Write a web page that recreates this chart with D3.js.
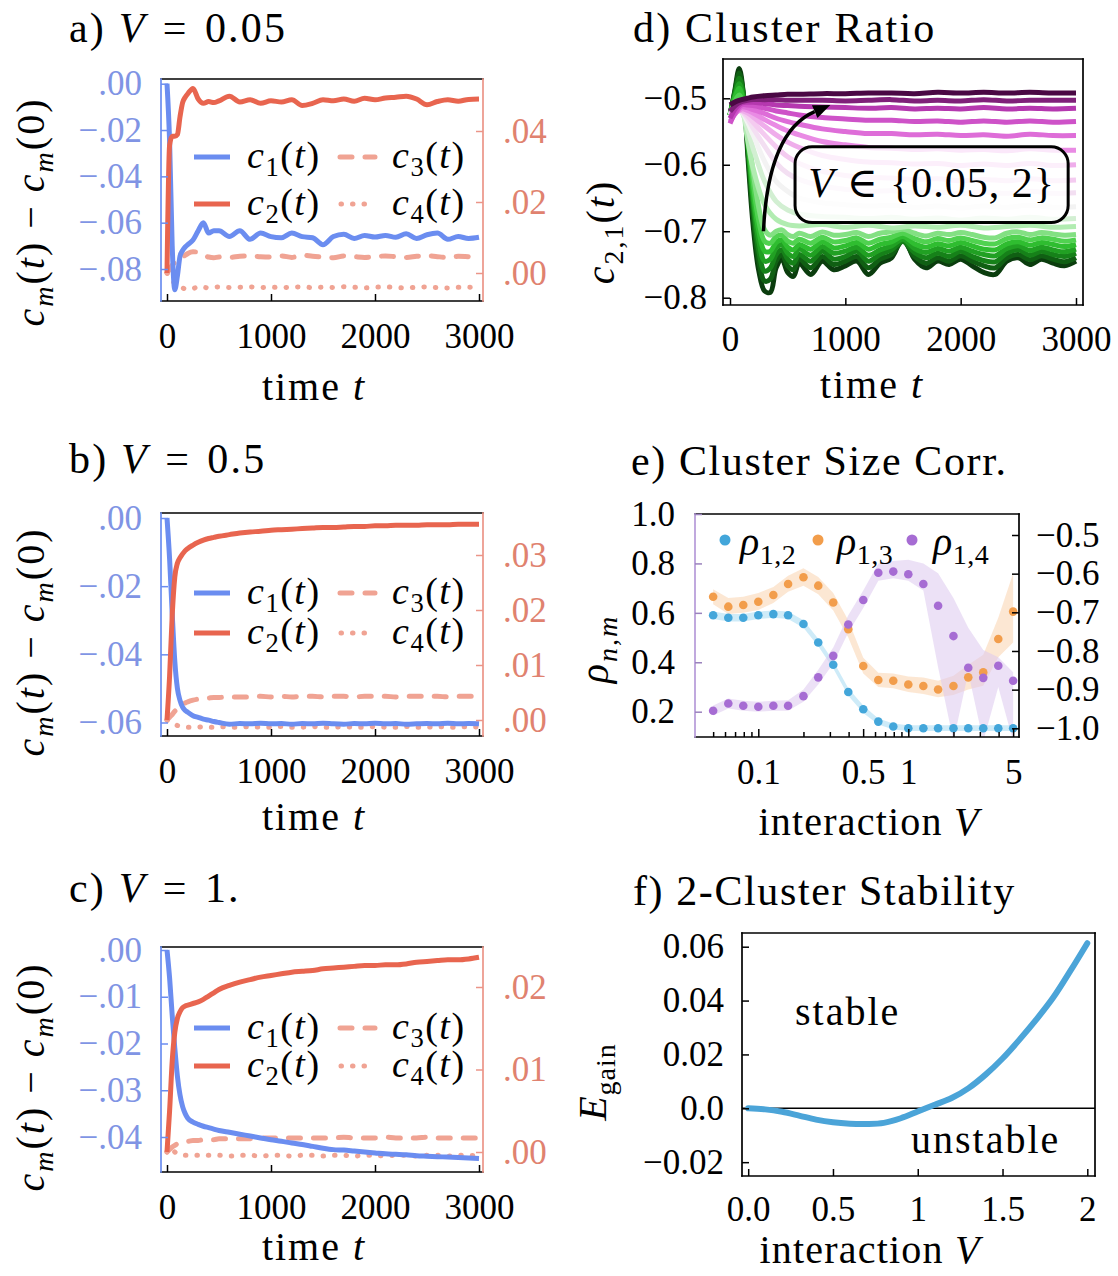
<!DOCTYPE html>
<html>
<head>
<meta charset="utf-8">
<title>Cluster dynamics</title>
<script src="https://cdn.jsdelivr.net/npm/d3@7"></script>
<style>
  html, body { margin: 0; padding: 0; background: #fff; }
  svg { display: block; }
  text { white-space: pre; }
</style>
</head>
<body>
<svg id="fig" width="1118" height="1276" viewBox="0 0 1118 1276"></svg>
<script>
// ================= data =================

// panels a–c: time grid and relative cluster sizes c_m(t) - c_m(0)
const T_ABC = [0,25,50,75,100,125,150,175,200,250,300,350,400,450,500,600,700,800,900,1000,1100,1200,1300,1400,1500,1600,1700,1800,1900,2000,2100,2200,2300,2400,2500,2600,2700,2800,2900,3000];
const T_TICKS = [0, 1000, 2000, 3000];

// a) V = 0.05
const c1A = [0,-0.025,-0.07,-0.089,-0.083,-0.0745,-0.072,-0.0705,-0.0695,-0.0675,-0.0635,-0.06,-0.0645,-0.0635,-0.0635,-0.066,-0.0635,-0.0672,-0.0645,-0.066,-0.0665,-0.0645,-0.066,-0.0665,-0.0695,-0.066,-0.065,-0.0668,-0.0655,-0.0662,-0.0655,-0.0663,-0.0648,-0.0668,-0.0652,-0.0645,-0.0672,-0.066,-0.0668,-0.0663];
const c2A = [0,0.036,0.0385,0.0385,0.039,0.044,0.048,0.0495,0.0505,0.052,0.049,0.0478,0.0483,0.048,0.0485,0.0498,0.0482,0.0488,0.0478,0.0485,0.0482,0.0488,0.0472,0.0478,0.0488,0.0485,0.049,0.0484,0.0492,0.0488,0.0493,0.0495,0.0498,0.049,0.0474,0.0483,0.0488,0.0484,0.0489,0.049];
const c3A = [0,0.001,0.0022,0.003,0.0035,0.004,0.0045,0.005,0.0055,0.006,0.0058,0.005,0.0045,0.0043,0.0045,0.0044,0.0047,0.0048,0.0046,0.0045,0.0048,0.0044,0.005,0.0047,0.0045,0.0043,0.0048,0.0046,0.0044,0.0046,0.0048,0.0046,0.0044,0.0047,0.0049,0.0046,0.0044,0.0047,0.0046,0.0045];
const c4A = [0,-0.001,-0.002,-0.003,-0.0035,-0.004,-0.0042,-0.0045,-0.0045,-0.0044,-0.0038,-0.004,-0.0042,-0.004,-0.0039,-0.0041,-0.004,-0.0039,-0.0041,-0.004,-0.0041,-0.004,-0.0039,-0.0041,-0.004,-0.0041,-0.0039,-0.004,-0.0042,-0.004,-0.0039,-0.0041,-0.0042,-0.004,-0.0039,-0.0041,-0.0042,-0.004,-0.004,-0.0041];

// b) V = 0.5
const c1B = [0,-0.012,-0.028,-0.042,-0.05,-0.0535,-0.0555,-0.0565,-0.057,-0.058,-0.0585,-0.059,-0.0593,-0.0597,-0.06,-0.0605,-0.0603,-0.0604,-0.0602,-0.0604,-0.0603,-0.0605,-0.0603,-0.0604,-0.0602,-0.0604,-0.0605,-0.0603,-0.0604,-0.0602,-0.0604,-0.0603,-0.0605,-0.0604,-0.0603,-0.0604,-0.0602,-0.0604,-0.0603,-0.0604];
const c2B = [0,0.008,0.019,0.026,0.0285,0.0295,0.0302,0.0308,0.0312,0.0318,0.0323,0.0327,0.033,0.0332,0.0334,0.0337,0.034,0.0342,0.0343,0.0345,0.0346,0.0347,0.0348,0.0349,0.035,0.035,0.0351,0.0352,0.0352,0.0353,0.0353,0.0354,0.0354,0.0354,0.0355,0.0355,0.0355,0.0356,0.0356,0.0356];
const c3B = [0,0.0005,0.001,0.0016,0.002,0.0025,0.0028,0.0031,0.0033,0.0036,0.0038,0.0039,0.004,0.0041,0.0041,0.0042,0.0042,0.0042,0.0043,0.0042,0.0043,0.0042,0.0043,0.0043,0.0042,0.0043,0.0043,0.0042,0.0043,0.0043,0.0043,0.0042,0.0043,0.0043,0.0043,0.0043,0.0042,0.0043,0.0043,0.0043];
const c4B = [0,-0.0003,-0.0006,-0.0008,-0.001,-0.0011,-0.0012,-0.0012,-0.0013,-0.0013,-0.0013,-0.0012,-0.0013,-0.0013,-0.0012,-0.0013,-0.0013,-0.0012,-0.0013,-0.0013,-0.0012,-0.0013,-0.0013,-0.0012,-0.0013,-0.0013,-0.0012,-0.0013,-0.0013,-0.0012,-0.0013,-0.0013,-0.0012,-0.0013,-0.0013,-0.0012,-0.0013,-0.0013,-0.0012,-0.0013];

// c) V = 1
const c1C = [0,-0.006,-0.014,-0.021,-0.027,-0.031,-0.0335,-0.035,-0.036,-0.0368,-0.0373,-0.0377,-0.038,-0.0383,-0.0386,-0.039,-0.0394,-0.0398,-0.0402,-0.0406,-0.0409,-0.0413,-0.0416,-0.042,-0.0424,-0.0427,-0.0428,-0.043,-0.0432,-0.0434,-0.0436,-0.0437,-0.0438,-0.044,-0.0441,-0.0442,-0.0443,-0.0444,-0.0445,-0.0446];
const c2C = [0,0.005,0.011,0.0145,0.0162,0.017,0.0175,0.0177,0.0178,0.018,0.0182,0.0185,0.0189,0.0193,0.0197,0.0202,0.0206,0.0209,0.0212,0.0214,0.0216,0.0218,0.0219,0.022,0.0222,0.0223,0.0224,0.0225,0.0226,0.0226,0.0227,0.0227,0.0228,0.023,0.0231,0.0232,0.0233,0.0233,0.0234,0.0236];
const c3C = [0,0.0003,0.0006,0.0008,0.001,0.0011,0.0012,0.0013,0.0013,0.0014,0.0014,0.0015,0.0015,0.0015,0.0016,0.0016,0.0016,0.0016,0.0017,0.0017,0.0017,0.0017,0.0017,0.0017,0.0017,0.0017,0.0018,0.0017,0.0017,0.0017,0.0018,0.0017,0.0017,0.0017,0.0018,0.0017,0.0017,0.0017,0.0017,0.0017];
const c4C = [0,0.0005,0.0003,0,-0.0002,-0.0003,-0.0004,-0.0004,-0.0004,-0.0004,-0.0004,-0.0005,-0.0004,-0.0004,-0.0004,-0.0005,-0.0004,-0.0004,-0.0005,-0.0004,-0.0004,-0.0005,-0.0004,-0.0004,-0.0005,-0.0004,-0.0004,-0.0005,-0.0004,-0.0004,-0.0005,-0.0004,-0.0004,-0.0005,-0.0004,-0.0004,-0.0005,-0.0004,-0.0004,-0.0005];

// d) cluster ratio c_{2,1}(t) for V from 0.05 (first) to 2 (last)
const T_FAST = [0,40,80,120,160,200,250,300,350,400,450,500,550,600,700,800,900,1000,1100,1200,1300,1400,1500,1600,1700,1800,1900,2000,2100,2200,2300,2400,2500,2600,2700,2800,2900,3000];
const ratioLowV = [
  [-0.525,-0.49,-0.455,-0.50,-0.60,-0.69,-0.76,-0.79,-0.792,-0.755,-0.742,-0.762,-0.768,-0.748,-0.765,-0.745,-0.758,-0.752,-0.745,-0.765,-0.748,-0.74,-0.71,-0.742,-0.755,-0.745,-0.75,-0.742,-0.752,-0.762,-0.765,-0.745,-0.74,-0.75,-0.742,-0.748,-0.752,-0.745],
  [-0.525,-0.492,-0.462,-0.50,-0.59,-0.675,-0.745,-0.775,-0.772,-0.745,-0.735,-0.752,-0.758,-0.742,-0.755,-0.738,-0.75,-0.745,-0.738,-0.755,-0.742,-0.735,-0.715,-0.738,-0.748,-0.74,-0.745,-0.737,-0.745,-0.752,-0.755,-0.74,-0.735,-0.743,-0.737,-0.742,-0.746,-0.74],
  [-0.525,-0.495,-0.47,-0.50,-0.58,-0.66,-0.73,-0.76,-0.755,-0.735,-0.728,-0.742,-0.748,-0.735,-0.745,-0.73,-0.742,-0.738,-0.73,-0.745,-0.735,-0.728,-0.715,-0.732,-0.74,-0.733,-0.738,-0.73,-0.738,-0.744,-0.746,-0.733,-0.728,-0.736,-0.73,-0.735,-0.738,-0.733],
  [-0.525,-0.498,-0.478,-0.505,-0.575,-0.65,-0.715,-0.745,-0.742,-0.725,-0.72,-0.733,-0.738,-0.727,-0.736,-0.723,-0.733,-0.73,-0.724,-0.736,-0.728,-0.722,-0.712,-0.726,-0.732,-0.726,-0.73,-0.724,-0.73,-0.735,-0.737,-0.726,-0.722,-0.729,-0.724,-0.728,-0.731,-0.727],
  [-0.525,-0.5,-0.485,-0.51,-0.57,-0.64,-0.7,-0.73,-0.73,-0.717,-0.713,-0.724,-0.728,-0.72,-0.727,-0.716,-0.725,-0.722,-0.717,-0.727,-0.72,-0.716,-0.708,-0.719,-0.724,-0.719,-0.722,-0.717,-0.722,-0.727,-0.728,-0.719,-0.716,-0.721,-0.717,-0.72,-0.723,-0.72],
  [-0.525,-0.505,-0.495,-0.515,-0.565,-0.625,-0.685,-0.715,-0.718,-0.708,-0.706,-0.715,-0.718,-0.712,-0.718,-0.709,-0.716,-0.714,-0.71,-0.718,-0.712,-0.709,-0.703,-0.711,-0.716,-0.711,-0.714,-0.71,-0.714,-0.718,-0.719,-0.711,-0.709,-0.713,-0.71,-0.712,-0.715,-0.713],
  [-0.525,-0.51,-0.505,-0.52,-0.56,-0.61,-0.665,-0.698,-0.706,-0.7,-0.698,-0.705,-0.708,-0.703,-0.708,-0.701,-0.706,-0.705,-0.702,-0.708,-0.703,-0.701,-0.697,-0.703,-0.707,-0.703,-0.705,-0.702,-0.705,-0.709,-0.71,-0.703,-0.701,-0.705,-0.702,-0.704,-0.706,-0.705]
];
const T_SLOW = [0,50,100,150,200,300,400,500,600,800,1000,1200,1400,1600,1800,2000,2200,2400,2600,2800,3000];
const ratioHighV = [
  [-0.525,-0.512,-0.515,-0.56,-0.605,-0.66,-0.682,-0.69,-0.692,-0.69,-0.694,-0.691,-0.695,-0.692,-0.694,-0.691,-0.695,-0.693,-0.691,-0.694,-0.693],
  [-0.525,-0.515,-0.52,-0.545,-0.575,-0.625,-0.655,-0.668,-0.674,-0.678,-0.679,-0.681,-0.679,-0.682,-0.68,-0.683,-0.68,-0.682,-0.679,-0.682,-0.681],
  [-0.525,-0.517,-0.52,-0.535,-0.555,-0.595,-0.625,-0.64,-0.65,-0.657,-0.66,-0.662,-0.661,-0.664,-0.662,-0.665,-0.662,-0.664,-0.661,-0.664,-0.663],
  [-0.525,-0.518,-0.52,-0.53,-0.545,-0.572,-0.597,-0.613,-0.622,-0.632,-0.637,-0.64,-0.639,-0.642,-0.641,-0.643,-0.641,-0.643,-0.64,-0.643,-0.642],
  [-0.524,-0.518,-0.519,-0.526,-0.536,-0.555,-0.573,-0.588,-0.598,-0.61,-0.616,-0.619,-0.62,-0.622,-0.621,-0.624,-0.622,-0.624,-0.621,-0.624,-0.623],
  [-0.523,-0.518,-0.518,-0.522,-0.528,-0.542,-0.555,-0.566,-0.574,-0.586,-0.592,-0.596,-0.597,-0.599,-0.598,-0.601,-0.599,-0.601,-0.598,-0.601,-0.6],
  [-0.53,-0.522,-0.516,-0.518,-0.522,-0.532,-0.541,-0.549,-0.555,-0.565,-0.57,-0.574,-0.575,-0.577,-0.576,-0.578,-0.577,-0.579,-0.576,-0.578,-0.578],
  [-0.535,-0.522,-0.513,-0.514,-0.517,-0.523,-0.53,-0.535,-0.539,-0.546,-0.55,-0.553,-0.553,-0.555,-0.554,-0.556,-0.555,-0.557,-0.554,-0.556,-0.556],
  [-0.538,-0.52,-0.51,-0.51,-0.511,-0.515,-0.519,-0.522,-0.525,-0.529,-0.531,-0.533,-0.533,-0.535,-0.534,-0.536,-0.534,-0.536,-0.534,-0.536,-0.535],
  [-0.53,-0.515,-0.507,-0.506,-0.506,-0.508,-0.51,-0.511,-0.512,-0.513,-0.514,-0.515,-0.514,-0.516,-0.515,-0.516,-0.514,-0.516,-0.515,-0.516,-0.515],
  [-0.52,-0.51,-0.505,-0.503,-0.502,-0.502,-0.502,-0.503,-0.503,-0.503,-0.504,-0.503,-0.502,-0.504,-0.503,-0.504,-0.502,-0.504,-0.503,-0.503,-0.503],
  [-0.51,-0.505,-0.502,-0.5,-0.498,-0.496,-0.495,-0.494,-0.494,-0.493,-0.493,-0.492,-0.492,-0.493,-0.491,-0.492,-0.491,-0.492,-0.491,-0.492,-0.492]
];
const D_YTICKS = [-0.8, -0.7, -0.6, -0.5];

// e) cluster size correlations vs interaction V
const V_E = [0.05,0.0631,0.0794,0.1,0.126,0.158,0.2,0.251,0.316,0.398,0.501,0.631,0.794,1.0,1.26,1.58,2.0,2.51,3.16,3.98,5.0];
const rho12   = [0.59,0.58,0.58,0.59,0.595,0.59,0.555,0.48,0.39,0.28,0.21,0.16,0.14,0.133,0.133,0.133,0.133,0.133,0.133,0.133,0.133];
const rho12Lo = [0.575,0.565,0.565,0.575,0.58,0.575,0.54,0.465,0.375,0.265,0.195,0.148,0.128,0.122,0.122,0.122,0.122,0.122,0.122,0.122,0.122];
const rho12Hi = [0.605,0.595,0.595,0.605,0.61,0.605,0.57,0.495,0.405,0.295,0.225,0.172,0.152,0.145,0.145,0.145,0.145,0.145,0.145,0.145,0.145];
const rho13   = [0.665,0.625,0.632,0.645,0.672,0.717,0.744,0.71,0.642,0.534,0.385,0.328,0.325,0.31,0.304,0.29,0.304,0.339,0.359,0.494,0.605];
const rho13Lo = [0.635,0.595,0.6,0.612,0.64,0.685,0.71,0.675,0.61,0.5,0.355,0.3,0.295,0.28,0.272,0.258,0.268,0.29,0.305,0.42,0.48];
const rho13Hi = [0.695,0.66,0.665,0.68,0.705,0.75,0.78,0.745,0.68,0.57,0.418,0.358,0.355,0.342,0.338,0.325,0.345,0.39,0.43,0.58,0.76];
const rho14   = [0.204,0.233,0.224,0.22,0.224,0.224,0.263,0.339,0.426,0.553,0.652,0.762,0.767,0.756,0.717,0.629,0.506,0.378,0.337,0.386,0.325];
const rho14Lo = [0.185,0.213,0.204,0.2,0.204,0.204,0.24,0.31,0.395,0.52,0.62,0.73,0.74,0.73,0.69,0.38,0.08,0.36,0.08,0.3,0.08];
const rho14Hi = [0.225,0.253,0.244,0.24,0.244,0.246,0.29,0.37,0.46,0.59,0.69,0.8,0.81,0.815,0.8,0.76,0.66,0.54,0.45,0.42,0.36];
const E_XTICKS = [0.1, 0.5, 1, 5];
const E_XMINOR = [0.05,0.06,0.07,0.08,0.09,0.2,0.3,0.4,0.6,0.7,0.8,0.9,2,3,4];
const E_YTICKS = [0.2, 0.4, 0.6, 0.8, 1.0];
const E_YTICKS_R = [-1.0, -0.9, -0.8, -0.7, -0.6, -0.5];

// f) energy gain of the 2-cluster state
const V_F = [0,0.1,0.2,0.3,0.4,0.5,0.6,0.7,0.8,0.9,1.0,1.1,1.2,1.3,1.4,1.5,1.6,1.7,1.8,1.9,2.0];
const E_F = [0,-0.0004,-0.0013,-0.0027,-0.0042,-0.0052,-0.0057,-0.0058,-0.0054,-0.0037,-0.0012,0.0013,0.0038,0.0075,0.0125,0.0185,0.0255,0.033,0.0412,0.051,0.0613];
const F_XTICKS = [0, 0.5, 1, 1.5, 2];
const F_XLABELS = ["0.0", "0.5", "1", "1.5", "2"];
const F_YTICKS = [-0.02, 0, 0.02, 0.04, 0.06];
const F_YLABELS = ["\u22120.02", "0.0", "0.02", "0.04", "0.06"];

// ================= drawing =================
const FONT = '"Liberation Serif", "DejaVu Serif", serif';
const TICK_FS = 35, LABEL_FS = 40, TITLE_FS = 42, LEG_FS = 38;
const LS = "1.5px", TITLE_LS = "2.2px";

const svg = d3.select("#fig").attr("font-family", FONT);
svg.append("rect").attr("width", 1118).attr("height", 1276).attr("fill", "#fff");

const C1 = "#6b8df0", C2 = "#e8654f", C34 = "#f0a393";
const BLUE_TXT = "#8094e4", RED_TXT = "#e0826f", RED_SPINE = "#eb9588";

// math-style text: parts are strings or {t, i (italic), sub (subscript)}
function mtext(parent, x, y, parts, size, o = {}) {
  const t = parent.append("text").attr("x", x).attr("y", y).attr("font-size", size)
    .attr("font-family", FONT);
  if (o.anchor) t.attr("text-anchor", o.anchor);
  if (o.fill) t.attr("fill", o.fill);
  if (o.rotate) t.attr("transform", `rotate(${o.rotate},${x},${y})`);
  t.attr("letter-spacing", o.ls != null ? o.ls : LS);
  let shift = 0;
  for (const p of parts) {
    const piece = typeof p === "string" ? { t: p } : p;
    const s = t.append("tspan").text(piece.t);
    if (piece.i) s.attr("font-style", "italic");
    const want = piece.sub ? size * 0.22 : 0;
    if (want !== shift) { s.attr("dy", want - shift); shift = want; }
    if (piece.sub) s.attr("font-size", size * 0.7);
  }
  return t;
}

let clipCount = 0;
function clipFor(g, box) {
  const id = "clip" + (clipCount++);
  g.append("clipPath").attr("id", id).append("rect")
    .attr("x", box.x0).attr("y", box.y0)
    .attr("width", box.x1 - box.x0).attr("height", box.y1 - box.y0);
  return `url(#${id})`;
}

function spines(g, box, c) {
  const seg = (x1, y1, x2, y2, col) => g.append("line")
    .attr("x1", x1).attr("y1", y1).attr("x2", x2).attr("y2", y2)
    .attr("stroke", col).attr("stroke-width", 1.7).attr("stroke-linecap", "square");
  seg(box.x0, box.y0, box.x1, box.y0, c.top || "#000");
  seg(box.x0, box.y1, box.x1, box.y1, c.bottom || "#000");
  seg(box.x0, box.y0, box.x0, box.y1, c.left || "#000");
  seg(box.x1, box.y0, box.x1, box.y1, c.right || "#000");
}

function styleAxis(a, lineColor, textColor) {
  a.attr("font-family", FONT).attr("font-size", TICK_FS);
  a.select(".domain").remove();
  a.selectAll(".tick line").attr("stroke", lineColor).attr("stroke-width", 1.5);
  a.selectAll(".tick text").attr("fill", textColor);
}

const fmtFrac = d => d3.format(".2f")(d).replace("0.", ".");
const EQ = "\u2004=\u2004";

// ---------- panels a–c ----------
function timePanel(cfg) {
  const g = svg.append("g");
  const box = cfg.box;
  const x = d3.scaleLinear().domain([0, 3000]).range([167, 479]);
  const yL = d3.scaleLinear().domain(cfg.left.dom).range(cfg.left.rng);
  const yR = d3.scaleLinear().domain(cfg.right.dom).range(cfg.right.rng);
  const clip = clipFor(g, box);
  const lineL = d3.line().x((d, i) => x(T_ABC[i])).y(d => yL(d)).curve(d3.curveMonotoneX);
  const lineR = d3.line().x((d, i) => x(T_ABC[i])).y(d => yR(d)).curve(d3.curveMonotoneX);
  const lg = g.append("g").attr("clip-path", clip);
  lg.append("path").datum(cfg.c3).attr("d", lineR).attr("fill", "none").attr("stroke", C34)
    .attr("stroke-width", 5).attr("stroke-dasharray", "12,13").attr("stroke-linecap", "round");
  lg.append("path").datum(cfg.c4).attr("d", lineR).attr("fill", "none").attr("stroke", C34)
    .attr("stroke-width", 5).attr("stroke-dasharray", "0.5,11").attr("stroke-linecap", "round");
  lg.append("path").datum(cfg.c1).attr("d", lineL).attr("fill", "none").attr("stroke", C1)
    .attr("stroke-width", 5).attr("stroke-linejoin", "round");
  lg.append("path").datum(cfg.c2).attr("d", lineR).attr("fill", "none").attr("stroke", C2)
    .attr("stroke-width", 5).attr("stroke-linejoin", "round");

  spines(g, box, { left: C1, right: RED_SPINE });

  g.append("g").attr("transform", `translate(${box.x0},0)`)
    .call(d3.axisLeft(yL).tickValues(cfg.left.ticks).tickFormat(fmtFrac).tickSize(-7).tickPadding(19))
    .call(styleAxis, C1, BLUE_TXT);
  g.append("g").attr("transform", `translate(${box.x1},0)`)
    .call(d3.axisRight(yR).tickValues(cfg.right.ticks).tickFormat(fmtFrac).tickSize(-7).tickPadding(20))
    .call(styleAxis, RED_SPINE, RED_TXT);
  g.append("g").attr("transform", `translate(0,${box.y1})`)
    .call(d3.axisBottom(x).tickValues(T_TICKS).tickFormat(d3.format("d")).tickSize(-7).tickPadding(22))
    .call(styleAxis, "#000", "#000");

  // legend (two columns)
  const [r1, r2] = cfg.legendRows;
  const sample = (x1, x2, y, col, dash) => {
    const l = g.append("line").attr("x1", x1).attr("x2", x2).attr("y1", y).attr("y2", y)
      .attr("stroke", col).attr("stroke-width", 5).attr("stroke-linecap", dash ? "round" : "butt");
    if (dash) l.attr("stroke-dasharray", dash);
  };
  sample(194, 230, r1, C1);
  sample(194, 230, r2, C2);
  sample(340, 375, r1, C34, "12,13");
  sample(341, 366, r2, C34, "0.5,11");
  const cm = k => [{ t: "c", i: 1 }, { t: String(k), sub: 1 }, "(", { t: "t", i: 1 }, ")"];
  mtext(g, 247, r1 + 11, cm(1), LEG_FS);
  mtext(g, 247, r2 + 11, cm(2), LEG_FS);
  mtext(g, 392, r1 + 11, cm(3), LEG_FS);
  mtext(g, 392, r2 + 11, cm(4), LEG_FS);

  // title and axis labels
  mtext(g, 69, cfg.titleY, cfg.title, TITLE_FS, { ls: TITLE_LS });
  mtext(g, 314, cfg.xlabelY, ["time ", { t: "t", i: 1 }], LABEL_FS, { anchor: "middle", ls: "2px" });
  mtext(g, 44, cfg.ylabelY,
    [{ t: "c", i: 1 }, { t: "m", i: 1, sub: 1 }, "(", { t: "t", i: 1 }, ") \u2212 ",
     { t: "c", i: 1 }, { t: "m", i: 1, sub: 1 }, "(0)"],
    LABEL_FS, { anchor: "middle", rotate: -90, ls: "2px" });
}

timePanel({
  box: { x0: 161, x1: 483, y0: 79, y1: 301 },
  left: { dom: [0, -0.08], rng: [83.7, 269], ticks: [-0.08, -0.06, -0.04, -0.02, 0] },
  right: { dom: [0, 0.04], rng: [273, 131], ticks: [0, 0.02, 0.04] },
  c1: c1A, c2: c2A, c3: c3A, c4: c4A,
  legendRows: [157, 204],
  title: ["a) ", { t: "V", i: 1 }, EQ + "0.05"], titleY: 42, xlabelY: 400, ylabelY: 212
});
timePanel({
  box: { x0: 161, x1: 483, y0: 513, y1: 736 },
  left: { dom: [0, -0.06], rng: [518, 722.5], ticks: [-0.06, -0.04, -0.02, 0] },
  right: { dom: [0, 0.03], rng: [720, 555], ticks: [0, 0.01, 0.02, 0.03] },
  c1: c1B, c2: c2B, c3: c3B, c4: c4B,
  legendRows: [593, 633],
  title: ["b) ", { t: "V", i: 1 }, EQ + "0.5"], titleY: 473, xlabelY: 830, ylabelY: 642
});
timePanel({
  box: { x0: 161, x1: 483, y0: 947, y1: 1172 },
  left: { dom: [0, -0.04], rng: [950, 1137], ticks: [-0.04, -0.03, -0.02, -0.01, 0] },
  right: { dom: [0, 0.02], rng: [1152, 987], ticks: [0, 0.01, 0.02] },
  c1: c1C, c2: c2C, c3: c3C, c4: c4C,
  legendRows: [1028, 1066],
  title: ["c) ", { t: "V", i: 1 }, EQ + "1."], titleY: 902, xlabelY: 1260, ylabelY: 1077
});

// ---------- panel d ----------
(function () {
  const g = svg.append("g");
  const box = { x0: 723, x1: 1083, y0: 59, y1: 305 };
  const x = d3.scaleLinear().domain([0, 3000]).range([730, 1076]);
  const y = d3.scaleLinear().domain([-0.5, -0.8]).range([98.3, 297.7]);
  const clip = clipFor(g, box);
  const n = ratioLowV.length + ratioHighV.length;
  const stops = ["#0b3d0e", "#178a1a", "#36cb36", "#a9eba9", "#f3f3f3", "#f4c6f0", "#e67ae0", "#c23ebc", "#4a0844"];
  const color = d3.scaleLinear().domain(stops.map((_, i) => i * (n - 1) / (stops.length - 1))).range(stops);
  const lg = g.append("g").attr("clip-path", clip);
  const lineFast = d3.line().x((d, i) => x(T_FAST[i])).y(d => y(d)).curve(d3.curveCatmullRom);
  const lineSlow = d3.line().x((d, i) => x(T_SLOW[i])).y(d => y(d)).curve(d3.curveCatmullRom);
  ratioLowV.forEach((s, k) => lg.append("path").datum(s).attr("d", lineFast).attr("fill", "none")
    .attr("stroke", color(k)).attr("stroke-width", 5).attr("stroke-linejoin", "round"));
  ratioHighV.forEach((s, k) => lg.append("path").datum(s).attr("d", lineSlow).attr("fill", "none")
    .attr("stroke", color(k + ratioLowV.length)).attr("stroke-width", 5).attr("stroke-linejoin", "round"));

  // annotation box
  const bx0 = x(564), bx1 = x(2932), by0 = y(-0.573), by1 = y(-0.687);
  g.append("rect").attr("x", bx0).attr("y", by0).attr("width", bx1 - bx0).attr("height", by1 - by0)
    .attr("rx", 17).attr("fill", "#fff").attr("fill-opacity", 0.8)
    .attr("stroke", "#000").attr("stroke-width", 3);
  mtext(g, (bx0 + bx1) / 2, y(-0.648), [{ t: "V", i: 1 }, " \u2208 {0.05, 2}"], 42, { anchor: "middle", ls: "1px" });

  // curved arrow
  const p0 = [x(290), y(-0.70)], pc = [x(330), y(-0.55)], p1 = [x(870), y(-0.510)];
  const ang = Math.atan2(p1[1] - pc[1], p1[0] - pc[0]);
  const hl = 17, hw = 7;
  const back = [p1[0] - hl * Math.cos(ang), p1[1] - hl * Math.sin(ang)];
  g.append("path").attr("d", `M${p0}Q${pc} ${back}`).attr("fill", "none")
    .attr("stroke", "#000").attr("stroke-width", 3.5);
  g.append("path").attr("d",
    `M${p1}L${back[0] - hw * Math.sin(ang)},${back[1] + hw * Math.cos(ang)}L${back[0] + hw * Math.sin(ang)},${back[1] - hw * Math.cos(ang)}Z`)
    .attr("fill", "#000");

  spines(g, box, {});
  g.append("g").attr("transform", `translate(${box.x0},0)`)
    .call(d3.axisLeft(y).tickValues(D_YTICKS).tickFormat(d3.format(".1f")).tickSize(-7).tickPadding(16))
    .call(styleAxis, "#000", "#000");
  g.append("g").attr("transform", `translate(0,${box.y1})`)
    .call(d3.axisBottom(x).tickValues(T_TICKS).tickFormat(d3.format("d")).tickSize(-7).tickPadding(21))
    .call(styleAxis, "#000", "#000");

  mtext(g, 633, 42, ["d) Cluster Ratio"], TITLE_FS, { ls: TITLE_LS });
  mtext(g, 872, 398, ["time ", { t: "t", i: 1 }], LABEL_FS, { anchor: "middle", ls: "2px" });
  mtext(g, 614, 232, [{ t: "c", i: 1 }, { t: "2,1", sub: 1 }, "(", { t: "t", i: 1 }, ")"], LABEL_FS,
    { anchor: "middle", rotate: -90, ls: "2px" });
})();

// ---------- panel e ----------
(function () {
  const g = svg.append("g");
  const box = { x0: 695, x1: 1019, y0: 514, y1: 737 };
  const x = d3.scaleLog().domain([0.1, 1]).range([758.3, 908.3]);
  const y = d3.scaleLinear().domain([1.0, 0.2]).range([514, 711.7]);
  const yR = d3.scaleLinear().domain([-0.5, -1.0]).range([535, 728.3]);
  const clip = clipFor(g, box);
  const series = [
    { v: rho12, lo: rho12Lo, hi: rho12Hi, col: "#43a6da", band: "#a6dbf3", lab: "1,2" },
    { v: rho13, lo: rho13Lo, hi: rho13Hi, col: "#f29d4b", band: "#f9d4ae", lab: "1,3" },
    { v: rho14, lo: rho14Lo, hi: rho14Hi, col: "#a66cd3", band: "#dcc8ef", lab: "1,4" }
  ];
  const lg = g.append("g").attr("clip-path", clip);
  series.forEach(s => {
    const area = d3.area().x((d, i) => x(V_E[i])).y0((d, i) => y(s.lo[i])).y1((d, i) => y(s.hi[i]));
    lg.append("path").datum(s.v).attr("d", area).attr("fill", s.band).attr("fill-opacity", 0.55);
  });
  series.forEach(s => {
    lg.selectAll(null).data(s.v).join("circle")
      .attr("cx", (d, i) => x(V_E[i])).attr("cy", d => y(d)).attr("r", 4.3).attr("fill", s.col);
  });

  spines(g, box, { left: "#b69ad9" });
  g.append("g").attr("transform", `translate(${box.x0},0)`)
    .call(d3.axisLeft(y).tickValues(E_YTICKS).tickFormat(d3.format(".1f")).tickSize(-7).tickPadding(20))
    .call(styleAxis, "#9b83bd", "#000");
  g.append("g").attr("transform", `translate(${box.x1},0)`)
    .call(d3.axisRight(yR).tickValues(E_YTICKS_R).tickFormat(d3.format(".1f")).tickSize(-7).tickPadding(17))
    .call(styleAxis, "#000", "#000");
  g.append("g").attr("transform", `translate(0,${box.y1})`)
    .call(d3.axisBottom(x).tickValues(E_XTICKS).tickFormat(d3.format("~g")).tickSize(-8).tickPadding(22))
    .call(styleAxis, "#000", "#000");
  g.append("g").attr("transform", `translate(0,${box.y1})`)
    .call(d3.axisBottom(x).tickValues(E_XMINOR).tickFormat("").tickSize(-5))
    .call(styleAxis, "#000", "#000");

  // legend
  const lx = [[725, 740], [818, 837], [912, 933]];
  series.forEach((s, k) => {
    g.append("circle").attr("cx", lx[k][0]).attr("cy", 540).attr("r", 5.5).attr("fill", s.col);
    mtext(g, lx[k][1], 555, [{ t: "\u03c1", i: 1 }, { t: s.lab, sub: 1 }], 40, { ls: "0.5px" });
  });

  mtext(g, 631, 475, ["e) Cluster Size Corr."], TITLE_FS, { ls: "1.6px" });
  mtext(g, 869, 835, ["interaction ", { t: "V", i: 1 }], LABEL_FS, { anchor: "middle", ls: "1.2px" });
  mtext(g, 608, 649, [{ t: "\u03c1", i: 1 }, { t: "n,m", i: 1, sub: 1 }], LABEL_FS,
    { anchor: "middle", rotate: -90, ls: "2px" });
})();

// ---------- panel f ----------
(function () {
  const g = svg.append("g");
  const box = { x0: 742, x1: 1095, y0: 933, y1: 1176 };
  const x = d3.scaleLinear().domain([0, 2]).range([748.2, 1087.3]);
  const y = d3.scaleLinear().domain([0, 0.06]).range([1108.3, 946.7]);
  const clip = clipFor(g, box);
  g.append("line").attr("x1", box.x0).attr("x2", box.x1).attr("y1", y(0)).attr("y2", y(0))
    .attr("stroke", "#000").attr("stroke-width", 1.6);
  const line = d3.line().x((d, i) => x(V_F[i])).y(d => y(d)).curve(d3.curveCatmullRom);
  g.append("g").attr("clip-path", clip).append("path").datum(E_F).attr("d", line)
    .attr("fill", "none").attr("stroke", "#4ba4d8").attr("stroke-width", 6).attr("stroke-linecap", "round");

  spines(g, box, {});
  g.append("g").attr("transform", `translate(${box.x0},0)`)
    .call(d3.axisLeft(y).tickValues(F_YTICKS).tickFormat((d, i) => F_YLABELS[i]).tickSize(-7).tickPadding(18))
    .call(styleAxis, "#000", "#000");
  g.append("g").attr("transform", `translate(0,${box.y1})`)
    .call(d3.axisBottom(x).tickValues(F_XTICKS).tickFormat((d, i) => F_XLABELS[i]).tickSize(-7).tickPadding(20))
    .call(styleAxis, "#000", "#000");

  mtext(g, 795, 1025, ["stable"], 40, { ls: "2px" });
  mtext(g, 911, 1153, ["unstable"], 40, { ls: "2px" });
  mtext(g, 633, 905, ["f) 2-Cluster Stability"], TITLE_FS, { ls: "1.6px" });
  mtext(g, 870, 1263, ["interaction ", { t: "V", i: 1 }], LABEL_FS, { anchor: "middle", ls: "1.2px" });
  mtext(g, 606, 1082, [{ t: "E", i: 1 }, { t: "gain", sub: 1 }], LABEL_FS, { anchor: "middle", rotate: -90, ls: "1px" });
})();
</script>
</body>
</html>
